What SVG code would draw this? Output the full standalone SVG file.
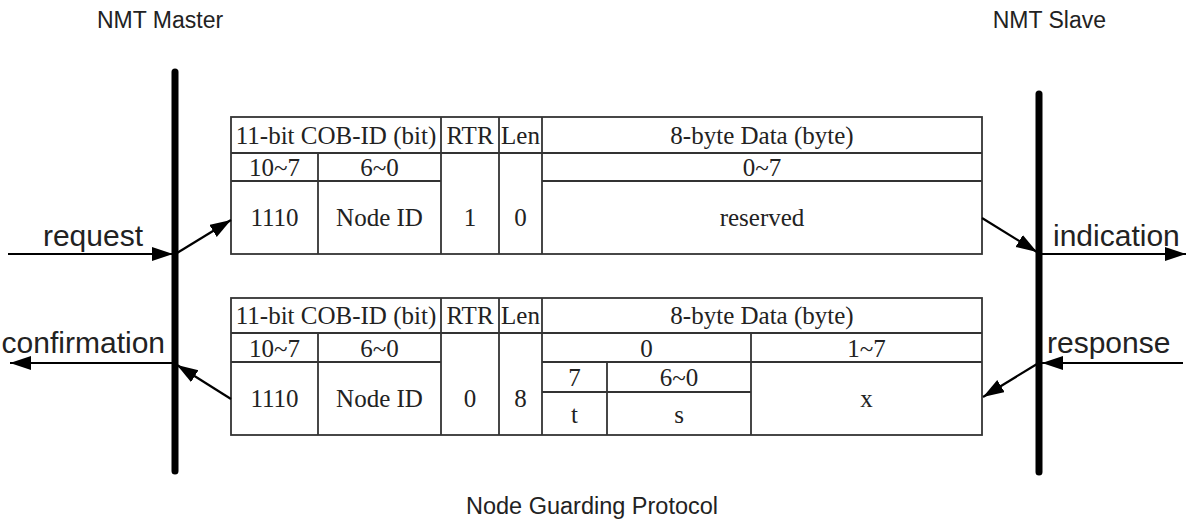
<svg xmlns="http://www.w3.org/2000/svg" width="1187" height="521" viewBox="0 0 1187 521">
<defs>
<style>
.t{font-family:"Liberation Serif","Times New Roman",serif;font-size:25px;fill:#222;text-anchor:middle}
.s{font-family:"Liberation Sans",Arial,sans-serif;fill:#222}
.g{fill:none;stroke:#333;stroke-width:1.8}
.bar{stroke:#000;stroke-width:7;stroke-linecap:round}
.a{stroke:#000;stroke-width:2.2;fill:none}
</style>
<marker id="ah" markerUnits="userSpaceOnUse" markerWidth="24" markerHeight="16" refX="21" refY="7" orient="auto">
<path d="M0,0 L21,7 L0,14 Z" fill="#000"/>
</marker>
</defs>
<rect width="1187" height="521" fill="#fff"/>

<g id="titles">
<text class="s" x="97" y="28" font-size="23">NMT Master</text>
<text class="s" x="1106" y="28" font-size="23" text-anchor="end">NMT Slave</text>
<text class="s" x="592" y="514" font-size="23.5" text-anchor="middle">Node Guarding Protocol</text>
</g>

<g id="master">
<line class="bar" x1="175" y1="72" x2="175" y2="471"/>
</g>
<g id="slave">
<line class="bar" x1="1039" y1="94" x2="1039" y2="472"/>
</g>

<g id="request-frame">
<rect class="g" x="231" y="117" width="751" height="137"/>
<path class="g" d="M231,153 H982 M231,181 H441 M542,181 H982 M318,153 V254 M441,117 V254 M499,117 V254 M542,117 V254"/>
<text class="t" x="336" y="144">11-bit COB-ID (bit)</text>
<text class="t" x="470" y="144">RTR</text>
<text class="t" x="520.5" y="144">Len</text>
<text class="t" x="762" y="144">8-byte Data (byte)</text>
<text class="t" x="274.5" y="176">10~7</text>
<text class="t" x="379.5" y="176">6~0</text>
<text class="t" x="762" y="176">0~7</text>
<text class="t" x="274.5" y="226">1110</text>
<text class="t" x="379.5" y="226">Node ID</text>
<text class="t" x="470" y="226">1</text>
<text class="t" x="520.5" y="226">0</text>
<text class="t" x="762" y="226">reserved</text>
</g>

<g id="response-frame">
<rect class="g" x="231" y="298" width="751" height="137"/>
<path class="g" d="M231,333 H982 M231,362 H441 M542,362 H982 M542,392 H751 M318,333 V435 M441,298 V435 M499,298 V435 M542,298 V435 M751,333 V435 M607,362 V435"/>
<text class="t" x="336" y="324">11-bit COB-ID (bit)</text>
<text class="t" x="470" y="324">RTR</text>
<text class="t" x="520.5" y="324">Len</text>
<text class="t" x="762" y="324">8-byte Data (byte)</text>
<text class="t" x="274.5" y="357">10~7</text>
<text class="t" x="379.5" y="357">6~0</text>
<text class="t" x="646.5" y="357">0</text>
<text class="t" x="866.5" y="357">1~7</text>
<text class="t" x="274.5" y="407">1110</text>
<text class="t" x="379.5" y="407">Node ID</text>
<text class="t" x="470" y="407">0</text>
<text class="t" x="520.5" y="407">8</text>
<text class="t" x="574.5" y="386">7</text>
<text class="t" x="679" y="386">6~0</text>
<text class="t" x="574.5" y="423">t</text>
<text class="t" x="679" y="423">s</text>
<text class="t" x="866.5" y="407">x</text>
</g>

<g id="labels">
<text class="s" x="143" y="246" font-size="30" text-anchor="end">request</text>
<text class="s" x="165" y="353" font-size="30" text-anchor="end">confirmation</text>
<text class="s" x="1053" y="246" font-size="30">indication</text>
<text class="s" x="1047" y="353" font-size="30">response</text>
</g>

<g id="connectors">
<line class="a" x1="8" y1="254" x2="173" y2="254" marker-end="url(#ah)"/>
<line class="a" x1="177" y1="253" x2="231" y2="220" marker-end="url(#ah)"/>
<line class="a" x1="982" y1="218" x2="1037" y2="252" marker-end="url(#ah)"/>
<line class="a" x1="1041" y1="254" x2="1186" y2="254" marker-end="url(#ah)"/>
<line class="a" x1="1183" y1="363" x2="1042" y2="363" marker-end="url(#ah)"/>
<line class="a" x1="1037" y1="364" x2="983" y2="397" marker-end="url(#ah)"/>
<line class="a" x1="231" y1="399" x2="177" y2="365" marker-end="url(#ah)"/>
<line class="a" x1="173" y1="363" x2="10" y2="363" marker-end="url(#ah)"/>
</g>
</svg>
